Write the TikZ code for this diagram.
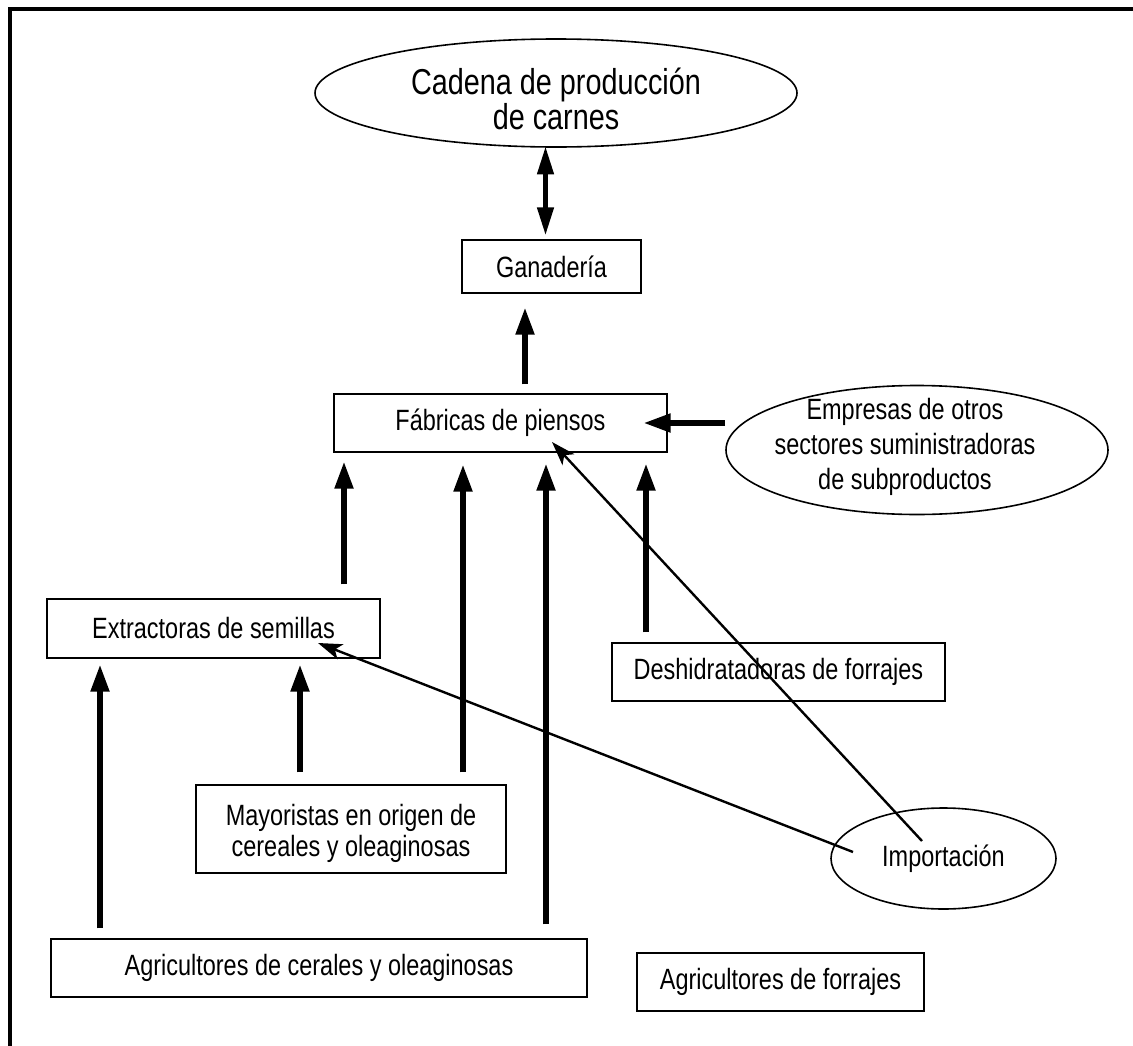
\documentclass[tikz,border=0pt]{standalone}
\usepackage{fontspec}
\setmainfont{Liberation Sans}[FakeStretch=0.80]
\usetikzlibrary{arrows.meta,shapes.geometric,calc}
\begin{document}
\begin{tikzpicture}[x=0.75pt,y=-0.75pt,
  box/.style={draw,line width=1.1pt,rectangle,inner sep=0pt,align=center,font=\fontsize{22}{23.25}\selectfont},
  oval/.style={draw,line width=1.2pt,ellipse,inner sep=0pt,align=center,font=\fontsize{22}{23}\selectfont},
  lbl/.style={inner sep=0pt,align=center,font=\fontsize{22}{26}\selectfont},
  bigarrow/.style={line width=5pt,-{Triangle[length=21pt,width=13pt]}},
  dblarrow/.style={line width=3.5pt,{Triangle[length=21pt,width=12pt]}-{Triangle[length=21pt,width=12pt]}},
  thinarrow/.style={line width=1.8pt,-{Stealth[length=18pt,width=12pt,inset=4.5pt]}}
]
\useasboundingbox (0,0) rectangle (1133,1046);
% frame
\draw[line width=2.5pt] (10,1046) -- (10,9) -- (1133,9);

% nodes
\node[oval,minimum width=361.5pt,minimum height=81pt] (cad) at (556,93) {};
\node[lbl,font=\fontsize{27}{23.5}\selectfont] (cadt) at (556,99) {Cadena de producción\\de carnes};
\node[box,minimum width=134.25pt,minimum height=39.75pt] (gan) at (551.5,266.5) {Ganadería};
\node[box,minimum width=249.75pt,minimum height=43.5pt] (fab) at (500.5,423) {Fábricas de piensos};
\node[oval,minimum width=286.5pt,minimum height=96.75pt] (emp) at (917,450) {};
\node[lbl] (empt) at (905,447) {Empresas de otros\\sectores suministradoras\\de subproductos};
\node[box,minimum width=249.75pt,minimum height=44.25pt] (ext) at (213.5,628.5) {Extractoras de semillas};
\node[box,minimum width=249.75pt,minimum height=43.5pt] (des) at (778.5,672) {Deshidratadoras de forrajes};
\node[box,minimum width=232.5pt,minimum height=66pt] (may) at (351,829) {};
\node[lbl,font=\fontsize{22}{23.25}\selectfont] (mayt) at (351,833) {Mayoristas en origen de\\cereales y oleaginosas};
\node[oval,minimum width=168.75pt,minimum height=75.75pt] (imp) at (943.5,858.5) {Importación};
\node[box,minimum width=402pt,minimum height=43.5pt] (agr) at (319,968) {Agricultores de cerales y oleaginosas};
\node[box,minimum width=215.25pt,minimum height=43.5pt] (agf) at (780.5,982) {Agricultores de forrajes};

% thick arrows
\draw[dblarrow,shorten <=-1pt,shorten >=3pt] (cad.south -| 545.5,0) -- (gan.north -| 545.5,0);
\draw[bigarrow,shorten <=6.75pt,shorten >=9.75pt] (fab.north -| 525,0) -- (gan.south -| 525,0);
\draw[bigarrow,shorten >=-18.75pt] (emp.west |- fab.east) -- (fab.east);
\draw[bigarrow,shorten <=10.5pt,shorten >=6pt] (ext.north -| 344,0) -- (fab.south -| 344,0);
\draw[bigarrow,shorten <=9pt,shorten >=8.25pt] (may.north -| 463,0) -- (fab.south -| 463,0);
\draw[bigarrow,shorten <=10.5pt,shorten >=7.5pt] (agr.north -| 546,0) -- (fab.south -| 546,0);
\draw[bigarrow,shorten <=7.5pt,shorten >=7.5pt] (des.north -| 646,0) -- (fab.south -| 646,0);
\draw[bigarrow,shorten <=7.5pt,shorten >=3.75pt] (agr.north -| 100,0) -- (ext.south -| 100,0);
\draw[bigarrow,shorten <=9pt,shorten >=3.75pt] (may.north -| 300,0) -- (ext.south -| 300,0);

% thin arrows from Importación
\coordinate (impa) at ($(imp.center)+(-90.5,-6.5)$);
\coordinate (impb) at ($(imp.center)+(-21.5,-17.5)$);
\coordinate (exttip) at ($(ext.center)+(104.5,14.5)$);
\coordinate (fabtip) at ($(fab.center)+(51.5,19)$);
\draw[thinarrow] (impa) -- (exttip);
\draw[thinarrow] (impb) -- (fabtip);
\end{tikzpicture}
\end{document}
